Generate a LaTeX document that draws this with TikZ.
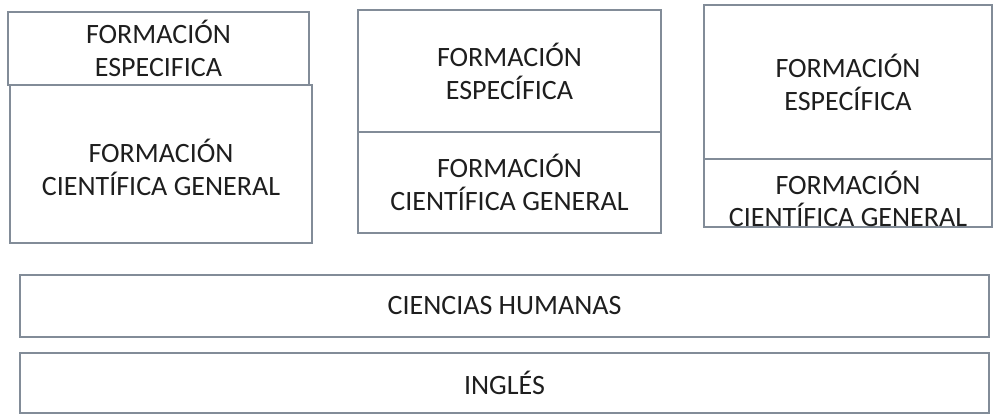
\documentclass[tikz,border=0pt]{standalone}
\usepackage{fontspec}
\setmainfont{Carlito}
\definecolor{boxline}{RGB}{130,140,152}
\definecolor{boxtext}{RGB}{30,30,30}

\begin{document}
\begin{tikzpicture}[x=0.5pt,y=-0.5pt,
    blocktext/.style={inner sep=0pt, align=center, text=boxtext, font=\fontsize{14}{16.5}\selectfont},
    block/.style={blocktext, draw=boxline, line width=0.7pt}]

    \useasboundingbox (0,0) rectangle (994,415);

    % First column
    \node[block, minimum width=150.5pt, minimum height=36.5pt] at (158.5,48.5) (esp1) {FORMACIÓN\\ESPECIFICA};
    \node[block, minimum width=151pt, minimum height=79pt,
        label={[blocktext, name=cg1text, yshift=-1.5pt]center:FORMACIÓN\\CIENTÍFICA GENERAL}] at (161,164) (cg1) {};

    % Second column
    \node[block, minimum width=151.5pt, minimum height=61pt] at (509.5,71) (esp2) {FORMACIÓN\\ESPECÍFICA};
    \node[block, minimum width=151.5pt, minimum height=50.5pt] at (509.5,182.5) (cg2) {FORMACIÓN\\CIENTÍFICA GENERAL};

    % Third column
    \node[block, minimum width=144pt, minimum height=77pt] at (848,82) (esp3) {FORMACIÓN\\ESPECÍFICA};
    \node[block, minimum width=144pt, minimum height=34pt,
        label={[blocktext, name=cg3text, yshift=-2.8pt, font=\fontsize{14}{16}\selectfont]center:FORMACIÓN\\CIENTÍFICA GENERAL}] at (848,193) (cg3) {};

    % Common blocks
    \node[block, minimum width=484.5pt, minimum height=31pt] at (504.5,306) (hum) {CIENCIAS HUMANAS};
    \node[block, minimum width=484.5pt, minimum height=30pt] at (504.5,383) (ing) {INGLÉS};

\end{tikzpicture}
\end{document}
